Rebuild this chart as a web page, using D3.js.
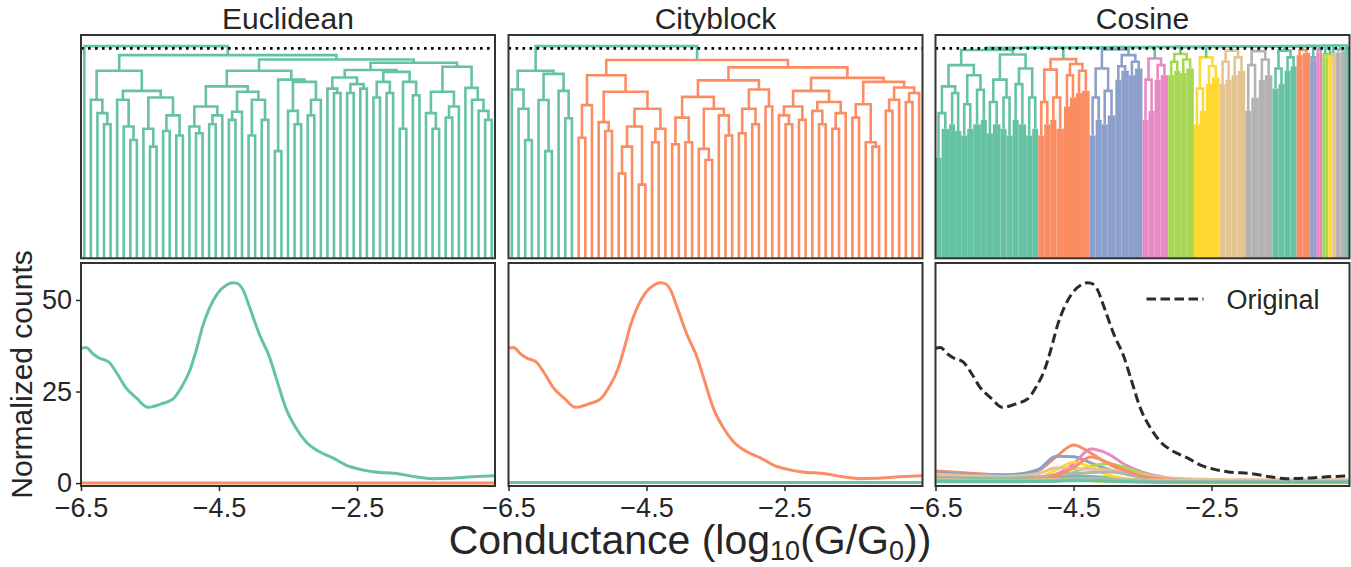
<!DOCTYPE html>
<html>
<head>
<meta charset="utf-8">
<script src="https://cdn.jsdelivr.net/npm/d3@7/dist/d3.min.js"></script>
<style>
  body { margin: 0; background: #fff; }
  svg text { font-family: "Liberation Sans", Arial, Helvetica, sans-serif; fill: #262626; }
</style>
</head>
<body>
<svg id="fig" width="1351" height="567"></svg>
<script>
// seaborn Set2, cluster colours in order
const palette = ["#66c2a5", "#fc8d62", "#8da0cb", "#e78ac3", "#a6d854", "#ffd92f", "#e5c494", "#b3b3b3"];
const aboveColor = palette[0];

const metrics = ["Euclidean", "Cityblock", "Cosine"];
const thresholds = [94, 94, 94];

// trees: internal node = [height, left, right], leaf = 0, dense block of k leaves = [k, height]
// Euclidean: one outlier leaf + one big cluster
const euclidA = [84,
  [71, 0, [65, 0, [60, 0, 0]]],
  [75, [71, 0, [59, 0, [53, 0, 0]]],
       [72, [58, 0, [50, 0, 0]], [64, [57, 0, 0], [55, 0, 0]]]]];
const euclidB = [89,
  [84, [77, [68, [59, 0, [56, 0, 0]], [64, [60, 0, 0], 0]],
            [74.6, [65.6, [62, 0, 0], 0], [71, [55, 0, 0], [62, 0, 0]]]],
       [80, [48, 0, 0], [79, [66, 0, [60, 0, 0]], [71, [64, 0, 0], 0]]]],
  [87.6, [84.3, [81, [76, 0, [74, 0, 0]], [78, [74, 0, 0], [76, 0, 0]]],
                [83.5, [79, [72, 0, 0], [74, 0, 0]], [79, [58, 0, 0], [73, 0, 0]]]],
         [85.8, [74.6, [65, 0, [58, 0, 0]], [68, [63, 0, 0], 0]],
                [76.3, 0, [71, 0, [66, 0, [62, 0, 0]]]]]]];
const euclidClusters = [0, [91, euclidA, euclidB]];
const euclidJoins = [95];

// Cityblock: two clusters
const cityGreen = [84, [75.6, 0, [67, 0, [52.9, 0, 0]]],
  [82.6, [70.9, 0, [48, 0, 0]], [75, 0, [62.7, 0, 0]]]];
const cityOrange = [88.8,
  [82, [68.6, [54, 0, 0], 0],
       [74.6, [61, 0, [57, 0, 0]], [67, [59, [50, [38, 0, 0], 0], [33, 0, 0]], [58, [52, 0, 0], 0]]]],
  [85.5,
    [79.7, [72.3, [63, [51, 0, 0], [52, 0, 0]], [67, [49, 0, [44, 0, 0]], [64, 0, [55, 0, 0]]]],
           [75.6, [67, [56, 0, 0], [60, 0, 0]], [68, 0, 0]]],
    [80.8, [75, [68, [64, 0, [60, 0, 0]], [62, 0, 0]], [70, [66, 0, [60, 0, 0]], [65, [58, 0, 0], 0]]],
           [79, [69, [63, 0, 0], [52, 0, [50, 0, 0]]], [76.5, [71, [66, 0, 0], 0], [74, [70, 0, 0], 0]]]]]];
const cityClusters = [cityGreen, cityOrange];
const cityJoins = [95];

// Cosine: 17 clusters, dense leaves drawn as blocks
const cosC1 = [93.3,
  [86.5, [77, [65, [4, 45], [5, 58]], [74, [4, 60], [4, 57]]],
         [82, [69, [4, 55], [4, 58]], [75.5, [5, 60], [4, 62]]]],
  [91.3, [80, [70, [4, 56], [5, 60]], [72, [4, 58], [4, 55]]],
         [85, [78, [4, 62], [5, 60]], [72, [4, 55], [4, 58]]]]];
const cosC2 = [89.2, [84.5, [70, [4, 55], [4, 60]], [72, [4, 62], [5, 58]]],
  [87, [82, [4, 68], [4, 72]], [84, [4, 74], [5, 75]]]];
const cosC3 = [93.5, [85, [72, [4, 55], [4, 62]], [75, [4, 60], [5, 64]]],
  [91, [86, [4, 80], [5, 84]], [88, [4, 82], [5, 85]]]];
const cosC4 = [89.5, [80, [4, 62], [4, 66]], [86.5, [4, 80], [5, 82]]];
const cosC5 = [91.5, [88, [4, 82], [4, 84]], [89, [4, 83], [5, 85]]];
const cosC6 = [90, [76, [4, 60], [4, 66]], [86, [4, 78], [5, 81]]];
const cosC7 = [93, [88, [4, 78], [4, 80]], [90, [4, 82], [5, 84]]];
const cosC8 = [92.8, [86.5, [4, 66], [5, 72]], [89, [4, 80], [5, 82]]];
const cosC9 = [93, [85, [4, 76], [4, 78]], [90, [4, 84], [4, 86]]];
const cosC10 = [93.3, [4, 91], [5, 92]];
const cosC11 = [90, [2, 88], [2, 89]];
const cosC12 = [93.5, [2, 92], [2, 92]];
const cosC13 = [91.5, [2, 90], [2, 90]];
const cosC14 = [91, [1, 89], [1, 90]];
const cosC15 = [92, [1, 90], [2, 91]];
const cosC16 = [93.5, [3, 92], [3, 92.5]];
const cosC17 = [94, [1, 92], [2, 93]];
const cosClusters = [cosC1, cosC2, cosC3, cosC4, cosC5, cosC6, cosC7, cosC8, cosC9,
  cosC10, cosC11, cosC12, cosC13, cosC14, cosC15, cosC16, cosC17];
const cosJoins = [94.3, 94.4, 94.5, 94.6, 94.6, 94.7, 94.8, 94.8, 94.9, 95.0, 95.0, 95.1, 95.1, 95.2, 95.2, 95.3];

// 1D conductance histogram of all traces
const origX = [-6.5, -6.43, -6.32, -6.23, -6.1, -5.98, -5.86, -5.69, -5.53, -5.31, -5.17, -5.04, -4.92, -4.83,
  -4.73, -4.64, -4.52, -4.39, -4.3, -4.25, -4.15, -4.06, -3.91, -3.77, -3.67, -3.53, -3.38, -3.24, -3.05,
  -2.85, -2.66, -2.47, -2.27, -1.89, -1.65, -1.41, -1.17, -0.83, -0.5];
const originalCounts = [36.8, 37.0, 35.2, 34.1, 33.1, 30.0, 26.3, 23.1, 20.7, 21.8, 22.9, 26.3, 30.9, 36.3,
  43.2, 47.7, 51.8, 54.1, 54.7, 54.6, 52.7, 48.2, 40.4, 34.5, 28.6, 20.4, 14.9, 11.3, 8.6,
  6.9, 4.9, 3.8, 3.1, 2.5, 1.7, 1.2, 1.3, 1.7, 2.0];

// nearly empty cluster histograms
const flatX = [-6.5, -0.5];
const euclidOutlierCounts = [0.0, 0.0];
const cityGreenCounts = [0.15, 0.15];

// cosine cluster histograms
const gridX = [-6.5, -6.25, -6.0, -5.75, -5.5, -5.25, -5.0, -4.75, -4.5, -4.25, -4.0, -3.75, -3.5,
  -3.25, -3.0, -2.75, -2.5, -2.25, -2.0, -1.75, -1.5, -1.25, -1.0, -0.75, -0.5];
const cosCounts = [
  [2.0, 1.9, 1.8, 1.6, 1.5, 1.4, 1.5, 1.8, 2.0, 1.8, 1.5, 1.1, 0.8, 0.6, 0.5, 0.4, 0.4, 0.3, 0.3, 0.3, 0.3, 0.3, 0.3, 0.3, 0.3],
  [3.3, 3.0, 2.7, 2.4, 2.3, 2.2, 3.5, 7.2, 10.4, 8.2, 5.2, 3.3, 2.1, 1.4, 1.0, 0.8, 0.7, 0.6, 0.5, 0.5, 0.5, 0.5, 0.5, 0.5, 0.5],
  [2.8, 2.6, 2.4, 2.2, 2.2, 2.6, 3.8, 7.3, 7.2, 5.5, 3.8, 2.5, 1.6, 1.1, 0.8, 0.6, 0.5, 0.5, 0.4, 0.4, 0.4, 0.4, 0.4, 0.4, 0.4],
  [1.5, 1.4, 1.3, 1.3, 1.3, 1.4, 1.6, 2.4, 5.2, 9.3, 8.0, 5.0, 3.0, 1.8, 1.1, 0.8, 0.6, 0.5, 0.5, 0.5, 0.5, 0.5, 0.5, 0.5, 0.5],
  [1.2, 1.1, 1.0, 1.0, 1.0, 1.1, 1.3, 1.8, 3.0, 4.6, 5.3, 4.2, 2.6, 1.5, 0.9, 0.6, 0.5, 0.4, 0.4, 0.4, 0.4, 0.4, 0.4, 0.4, 0.4],
  [1.0, 0.9, 0.9, 0.9, 0.9, 1.0, 1.5, 3.6, 5.7, 4.4, 2.2, 1.2, 0.7, 0.5, 0.4, 0.3, 0.3, 0.3, 0.3, 0.3, 0.3, 0.3, 0.3, 0.3, 0.3],
  [2.4, 2.2, 2.0, 1.9, 1.8, 2.0, 2.6, 4.2, 4.0, 3.8, 3.6, 3.1, 2.2, 1.6, 1.3, 1.1, 1.0, 0.9, 0.9, 0.9, 0.9, 0.9, 0.9, 0.9, 0.9],
  [1.6, 1.5, 1.4, 1.4, 1.4, 1.5, 1.7, 2.2, 2.6, 2.9, 3.0, 2.6, 1.8, 1.2, 0.9, 0.7, 0.6, 0.6, 0.5, 0.5, 0.5, 0.5, 0.5, 0.5, 0.5],
  [1.2, 1.1, 1.1, 1.0, 1.0, 1.0, 1.1, 1.4, 1.6, 1.5, 1.2, 0.9, 0.6, 0.4, 0.3, 0.3, 0.2, 0.2, 0.2, 0.2, 0.2, 0.2, 0.2, 0.2, 0.2],
  [0.8, 0.8, 0.7, 0.7, 0.7, 0.8, 1.0, 2.0, 4.2, 7.1, 5.6, 3.4, 1.9, 1.1, 0.7, 0.5, 0.4, 0.3, 0.3, 0.3, 0.3, 0.3, 0.3, 0.3, 0.3],
  [0.6, 0.6, 0.5, 0.5, 0.5, 0.5, 0.6, 0.9, 1.2, 1.1, 0.9, 0.6, 0.4, 0.3, 0.2, 0.2, 0.2, 0.2, 0.2, 0.2, 0.2, 0.2, 0.2, 0.2, 0.2],
  [0.5, 0.5, 0.5, 0.4, 0.4, 0.4, 0.5, 0.7, 1.0, 1.3, 1.1, 0.8, 0.5, 0.3, 0.2, 0.2, 0.2, 0.2, 0.2, 0.2, 0.2, 0.2, 0.2, 0.2, 0.2],
  [0.4, 0.4, 0.4, 0.4, 0.4, 0.4, 0.4, 0.6, 0.8, 1.0, 1.1, 0.9, 0.6, 0.4, 0.3, 0.2, 0.2, 0.2, 0.2, 0.2, 0.2, 0.2, 0.2, 0.2, 0.2],
  [0.3, 0.3, 0.3, 0.3, 0.3, 0.3, 0.4, 0.6, 0.8, 0.6, 0.4, 0.3, 0.2, 0.2, 0.1, 0.1, 0.1, 0.1, 0.1, 0.1, 0.1, 0.1, 0.1, 0.1, 0.1],
  [0.9, 0.9, 0.8, 0.8, 0.8, 0.8, 0.9, 1.0, 1.1, 1.1, 1.0, 0.9, 0.8, 0.8, 0.7, 0.7, 0.7, 0.7, 0.7, 0.7, 0.7, 0.7, 0.7, 0.7, 0.7],
  [0.7, 0.7, 0.6, 0.6, 0.6, 0.6, 0.7, 0.8, 1.0, 1.1, 1.0, 0.8, 0.6, 0.5, 0.4, 0.4, 0.4, 0.4, 0.4, 0.4, 0.4, 0.4, 0.4, 0.4, 0.4],
  [0.4, 0.4, 0.4, 0.4, 0.4, 0.4, 0.4, 0.5, 0.6, 0.6, 0.5, 0.4, 0.3, 0.2, 0.2, 0.2, 0.2, 0.2, 0.2, 0.2, 0.2, 0.2, 0.2, 0.2, 0.2]
];

const xTicks = [-6.5, -4.5, -2.5];
const yTicks = [0, 25, 50];

// ---- layout
const panelW = 414;
const panelX = [81, 508.5, 935.5];
const topBox = [35, 258.3];
const botBox = [263, 486];
const frameColor = "#333";

const svg = d3.select("#fig");

// walk a tree left to right, collecting U-links and dense blocks
function layoutDendrogram(clusters, joins) {
  const links = [], blocks = [];
  let leafIdx = 0, colorIdx = 0;
  function walk(node, color) {
    if (node === 0) {
      const x = leafIdx + 0.5; leafIdx += 1;
      return {x: x, h: 0};
    }
    if (node.length === 2) {
      const x0 = leafIdx; leafIdx += node[0];
      blocks.push({x0: x0, x1: leafIdx, h: node[1], color: color});
      return {x: (x0 + leafIdx) / 2, h: node[1]};
    }
    const a = walk(node[1], color), b = walk(node[2], color);
    links.push({x1: a.x, h1: a.h, x2: b.x, h2: b.h, h: node[0], color: color});
    return {x: (a.x + b.x) / 2, h: node[0]};
  }
  let acc = null;
  clusters.forEach(function(c, k) {
    const color = c === 0 ? aboveColor : palette[colorIdx++ % palette.length];
    const r = walk(c, color);
    if (acc === null) { acc = r; return; }
    const h = joins[k - 1];
    links.push({x1: acc.x, h1: acc.h, x2: r.x, h2: r.h, h: h, color: aboveColor});
    acc = {x: (acc.x + r.x) / 2, h: h};
  });
  return {links: links, blocks: blocks, n: leafIdx};
}

const dendros = [
  layoutDendrogram(euclidClusters, euclidJoins),
  layoutDendrogram(cityClusters, cityJoins),
  layoutDendrogram(cosClusters, cosJoins)
];

const yDen = d3.scaleLinear().domain([0, 100]).range([topBox[1], topBox[0]]);
const yHist = d3.scaleLinear().domain([-0.8, 60.1]).range([botBox[1], botBox[0]]);

const line = d3.line()
  .x(d => d.sx)
  .y(d => d.sy)
  .curve(d3.curveMonotoneX);

function curvePoints(xs, ys, x) {
  return xs.map((v, i) => ({sx: x(v), sy: yHist(ys[i])}));
}

metrics.forEach(function(name, p) {
  const x0 = panelX[p];
  const den = dendros[p];
  const xDen = d3.scaleLinear().domain([0, den.n]).range([x0, x0 + panelW]);

  // ---- dendrogram
  const gt = svg.append("g");
  gt.append("clipPath").attr("id", "clipTop" + p)
    .append("rect").attr("x", x0).attr("y", topBox[0])
    .attr("width", panelW).attr("height", topBox[1] - topBox[0]);
  const gtc = gt.append("g").attr("clip-path", "url(#clipTop" + p + ")");

  gtc.selectAll("rect.block").data(den.blocks).enter()
    .append("rect")
    .attr("class", "block")
    .attr("x", d => xDen(d.x0))
    .attr("width", d => xDen(d.x1) - xDen(d.x0))
    .attr("y", d => yDen(d.h))
    .attr("height", d => yDen(0) - yDen(d.h))
    .attr("fill", d => d.color);

  gtc.selectAll("path.link").data(den.links).enter()
    .append("path")
    .attr("class", "link")
    .attr("d", d => "M" + xDen(d.x1) + "," + yDen(d.h1) + "V" + yDen(d.h) +
                    "H" + xDen(d.x2) + "V" + yDen(d.h2))
    .attr("fill", "none")
    .attr("stroke", d => d.color)
    .attr("stroke-width", 2.6);

  gtc.append("line")
    .attr("x1", x0).attr("x2", x0 + panelW)
    .attr("y1", yDen(thresholds[p])).attr("y2", yDen(thresholds[p]))
    .attr("stroke", "#000").attr("stroke-width", 2.6)
    .attr("stroke-dasharray", "2.6,4.4");

  gt.append("rect")
    .attr("x", x0).attr("y", topBox[0])
    .attr("width", panelW).attr("height", topBox[1] - topBox[0])
    .attr("fill", "none").attr("stroke", frameColor).attr("stroke-width", 2);

  gt.append("text")
    .attr("x", x0 + panelW / 2).attr("y", 29)
    .attr("text-anchor", "middle")
    .style("font-size", "30px")
    .text(name);

  // ---- histogram
  const x = d3.scaleLinear().domain([-6.5, -0.5]).range([x0, x0 + panelW]);
  const gb = svg.append("g");
  gb.append("clipPath").attr("id", "clipBot" + p)
    .append("rect").attr("x", x0).attr("y", botBox[0])
    .attr("width", panelW).attr("height", botBox[1] - botBox[0]);
  const gbc = gb.append("g").attr("clip-path", "url(#clipBot" + p + ")");

  let series;
  if (p === 0) {
    series = [
      {pts: curvePoints(origX, originalCounts, x), color: palette[0]},
      {pts: curvePoints(flatX, euclidOutlierCounts, x), color: palette[1]}
    ];
  } else if (p === 1) {
    series = [
      {pts: curvePoints(flatX, cityGreenCounts, x), color: palette[0]},
      {pts: curvePoints(origX, originalCounts, x), color: palette[1]}
    ];
  } else {
    series = cosCounts.map((c, i) => ({pts: curvePoints(gridX, c, x), color: palette[i % palette.length]}));
  }
  gbc.selectAll("path.hist").data(series).enter()
    .append("path")
    .attr("class", "hist")
    .attr("d", d => line(d.pts))
    .attr("fill", "none")
    .attr("stroke", d => d.color)
    .attr("stroke-width", 3);

  if (p === 2) {
    gbc.append("path")
      .attr("d", line(curvePoints(origX, originalCounts, x)))
      .attr("fill", "none")
      .attr("stroke", "#2b2b2b")
      .attr("stroke-width", 3)
      .attr("stroke-dasharray", "9.5,4.5");
    // legend
    gb.append("line")
      .attr("x1", x0 + 211).attr("x2", x0 + 268)
      .attr("y1", 299).attr("y2", 299)
      .attr("stroke", "#2b2b2b").attr("stroke-width", 3)
      .attr("stroke-dasharray", "9.5,4.5");
    gb.append("text")
      .attr("x", x0 + 291).attr("y", 309)
      .style("font-size", "27px")
      .text("Original");
  }

  gb.append("rect")
    .attr("x", x0).attr("y", botBox[0])
    .attr("width", panelW).attr("height", botBox[1] - botBox[0])
    .attr("fill", "none").attr("stroke", frameColor).attr("stroke-width", 2);

  const gx = gb.append("g")
    .attr("transform", "translate(0," + botBox[1] + ")")
    .call(d3.axisBottom(x).tickValues(xTicks).tickSize(5).tickPadding(7).tickFormat(d3.format(".1f")));
  gx.select(".domain").remove();
  gx.selectAll(".tick line").attr("stroke", "#262626").attr("stroke-width", 1.5);
  gx.selectAll(".tick text").style("font-size", "27px");

  if (p === 0) {
    const gy = gb.append("g")
      .attr("transform", "translate(" + x0 + ",0)")
      .call(d3.axisLeft(yHist).tickValues(yTicks).tickSize(5).tickPadding(4).tickFormat(d3.format("d")));
    gy.select(".domain").remove();
    gy.selectAll(".tick line").attr("stroke", "#262626").attr("stroke-width", 1.5);
    gy.selectAll(".tick text").style("font-size", "27px");
  }
});

// axis labels
svg.append("text")
  .attr("transform", "translate(31.5," + (botBox[0] + botBox[1]) / 2 + ") rotate(-90)")
  .attr("text-anchor", "middle")
  .style("font-size", "30px")
  .text("Normalized counts");

const xl = svg.append("text")
  .attr("x", 690).attr("y", 554)
  .attr("text-anchor", "middle")
  .style("font-size", "41px");
xl.append("tspan").text("Conductance (log");
xl.append("tspan").text("10").style("font-size", "27px").attr("dy", 6);
xl.append("tspan").text("(G/G").attr("dy", -6);
xl.append("tspan").text("0").style("font-size", "27px").attr("dy", 6);
xl.append("tspan").text("))").attr("dy", -6);
</script>
</body>
</html>
